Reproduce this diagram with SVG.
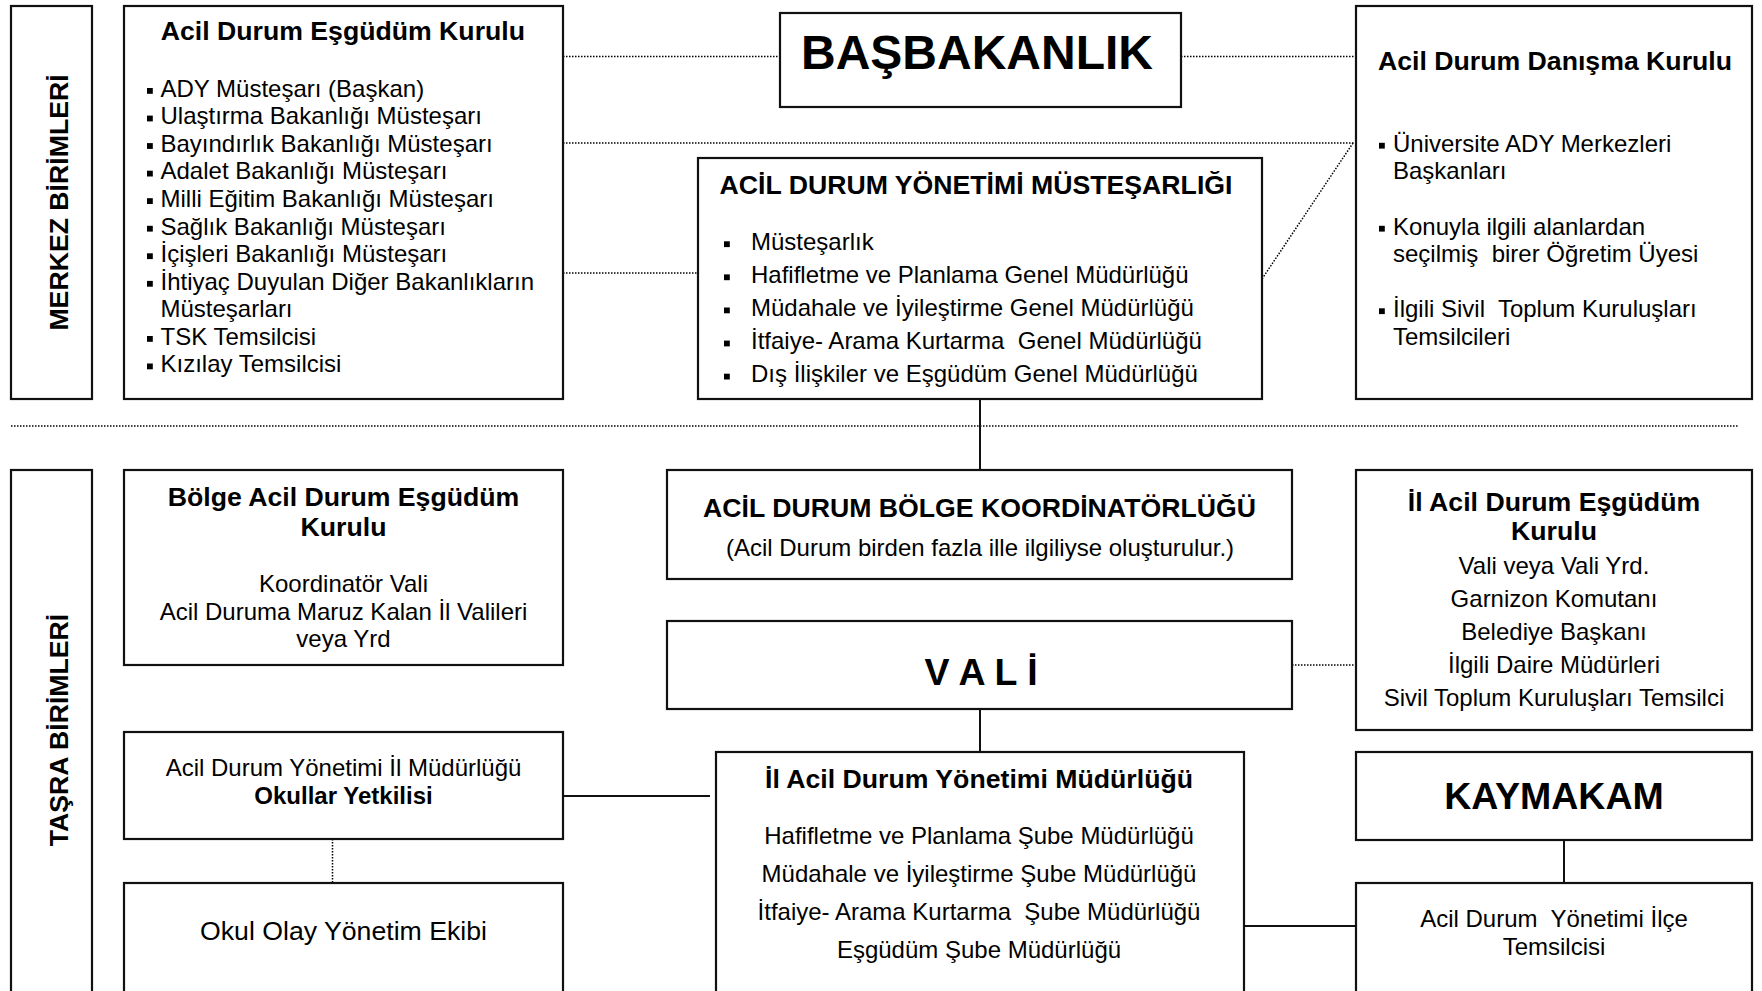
<svg xmlns="http://www.w3.org/2000/svg" xmlns:xlink="http://www.w3.org/1999/xlink" width="1762" height="991" viewBox="0 0 1762 991">
  <style>
    .box { fill: #fff; stroke: #111; stroke-width: 2.2; }
    .t { font-family: "Liberation Sans", Arial, "DejaVu Sans", sans-serif; font-size: 24px; fill: #000; }
    .h { font-size: 26.67px; font-weight: bold; }
    .b { font-weight: bold; }
    .mid { text-anchor: middle; }
    .dot { fill: none; stroke: #000; stroke-width: 1.5; stroke-dasharray: 1.5 1.5; }
    .solid { fill: none; stroke: #111; stroke-width: 2; }
    .blt { fill: #000; }
  </style>
  <defs>
    <rect id="sq" class="blt" x="0" y="-8.7" width="5.8" height="5.8"/>
  </defs>
  <rect width="1762" height="991" fill="#fff"/>

  <!-- connectors -->
  <g id="connectors">
    <line class="dot" x1="11" y1="426" x2="1739" y2="426"/>
    <line class="dot" x1="563" y1="56.5" x2="780" y2="56.5"/>
    <line class="dot" x1="1181" y1="56.5" x2="1356" y2="56.5"/>
    <line class="dot" x1="563" y1="143" x2="1392" y2="143"/>
    <line class="dot" x1="563" y1="273" x2="698" y2="273"/>
    <line class="dot" x1="1353" y1="143" x2="1258" y2="285"/>
    <line class="solid" x1="980" y1="399" x2="980" y2="470"/>
    <line class="solid" x1="980" y1="709" x2="980" y2="752"/>
    <line class="dot" x1="1292" y1="665" x2="1356" y2="665"/>
    <line class="solid" x1="563" y1="796" x2="710" y2="796"/>
    <line class="dot" x1="332.5" y1="839" x2="332.5" y2="883"/>
    <line class="solid" x1="1564" y1="840" x2="1564" y2="883"/>
    <line class="solid" x1="1244" y1="926" x2="1356" y2="926"/>
  </g>

  <!-- side labels -->
  <g id="merkez">
    <rect class="box" x="11" y="6" width="81" height="393"/>
    <text class="t h mid" transform="translate(68,202.5) rotate(-90)">MERKEZ BİRİMLERİ</text>
  </g>
  <g id="tasra">
    <rect class="box" x="11" y="470" width="81" height="560"/>
    <text class="t h mid" transform="translate(68,730) rotate(-90)">TAŞRA BİRİMLERİ</text>
  </g>

  <!-- central level -->
  <g id="eşgüdüm-kurulu">
    <rect class="box" x="124" y="6" width="439" height="393"/>
    <text class="t h" x="160.7" y="40">Acil Durum Eşgüdüm Kurulu</text>
    <use xlink:href="#sq" x="147" y="96.7"/>
    <text class="t" x="160.5" y="96.7">ADY Müsteşarı (Başkan)</text>
    <use xlink:href="#sq" x="147" y="124.3"/>
    <text class="t" x="160.5" y="124.3">Ulaştırma Bakanlığı Müsteşarı</text>
    <use xlink:href="#sq" x="147" y="151.8"/>
    <text class="t" x="160.5" y="151.8">Bayındırlık Bakanlığı Müsteşarı</text>
    <use xlink:href="#sq" x="147" y="179.4"/>
    <text class="t" x="160.5" y="179.4">Adalet Bakanlığı Müsteşarı</text>
    <use xlink:href="#sq" x="147" y="206.9"/>
    <text class="t" x="160.5" y="206.9">Milli Eğitim Bakanlığı Müsteşarı</text>
    <use xlink:href="#sq" x="147" y="234.5"/>
    <text class="t" x="160.5" y="234.5">Sağlık Bakanlığı Müsteşarı</text>
    <use xlink:href="#sq" x="147" y="262"/>
    <text class="t" x="160.5" y="262">İçişleri Bakanlığı Müsteşarı</text>
    <use xlink:href="#sq" x="147" y="289.6"/>
    <text class="t" x="160.5" y="289.6">İhtiyaç Duyulan Diğer Bakanlıkların</text>
    <text class="t" x="160.5" y="317.1">Müsteşarları</text>
    <use xlink:href="#sq" x="147" y="344.7"/>
    <text class="t" x="160.5" y="344.7">TSK Temsilcisi</text>
    <use xlink:href="#sq" x="147" y="372.2"/>
    <text class="t" x="160.5" y="372.2">Kızılay Temsilcisi</text>
  </g>

  <g id="basbakanlik">
    <rect class="box" x="780" y="13" width="401" height="94"/>
    <text class="t b mid" x="977" y="68.5" style="font-size:48px">BAŞBAKANLIK</text>
  </g>

  <g id="danisma-kurulu">
    <rect class="box" x="1356" y="6" width="396" height="393"/>
    <text class="t h" x="1378" y="70">Acil Durum Danışma Kurulu</text>
    <use xlink:href="#sq" x="1379" y="151.5"/>
    <text class="t" x="1393" y="151.5">Üniversite ADY Merkezleri</text>
    <text class="t" x="1393" y="179">Başkanları</text>
    <use xlink:href="#sq" x="1379" y="234.5"/>
    <text class="t" x="1393" y="234.5">Konuyla ilgili alanlardan</text>
    <text class="t" x="1393" y="262" xml:space="preserve">seçilmiş  birer Öğretim Üyesi</text>
    <use xlink:href="#sq" x="1379" y="317"/>
    <text class="t" x="1393" y="317" xml:space="preserve">İlgili Sivil  Toplum Kuruluşları</text>
    <text class="t" x="1393" y="345">Temsilcileri</text>
  </g>

  <g id="mustesarlik">
    <rect class="box" x="698" y="158" width="564" height="241"/>
    <text class="t h mid" x="976" y="194">ACİL DURUM YÖNETİMİ MÜSTEŞARLIĞI</text>
    <use xlink:href="#sq" x="724" y="250"/>
    <text class="t" x="751" y="250">Müsteşarlık</text>
    <use xlink:href="#sq" x="724" y="283.1"/>
    <text class="t" x="751" y="283.1">Hafifletme ve Planlama Genel Müdürlüğü</text>
    <use xlink:href="#sq" x="724" y="316.2"/>
    <text class="t" x="751" y="316.2">Müdahale ve İyileştirme Genel Müdürlüğü</text>
    <use xlink:href="#sq" x="724" y="349.3"/>
    <text class="t" x="751" y="349.3" xml:space="preserve">İtfaiye- Arama Kurtarma  Genel Müdürlüğü</text>
    <use xlink:href="#sq" x="724" y="382.4"/>
    <text class="t" x="751" y="382.4">Dış İlişkiler ve Eşgüdüm Genel Müdürlüğü</text>
  </g>

  <!-- provincial level -->
  <g id="bolge-kurulu">
    <rect class="box" x="124" y="470" width="439" height="195"/>
    <text class="t h mid" x="343.5" y="506">Bölge Acil Durum Eşgüdüm</text>
    <text class="t h mid" x="343.5" y="536">Kurulu</text>
    <text class="t mid" x="343.5" y="592">Koordinatör Vali</text>
    <text class="t mid" x="343.5" y="619.5">Acil Duruma Maruz Kalan İl Valileri</text>
    <text class="t mid" x="343.5" y="647">veya Yrd</text>
  </g>

  <g id="bolge-koordinatorlugu">
    <rect class="box" x="667" y="470" width="625" height="109"/>
    <text class="t h mid" x="979.5" y="516.5">ACİL DURUM BÖLGE KOORDİNATÖRLÜĞÜ</text>
    <text class="t mid" x="980" y="556">(Acil Durum birden fazla ille ilgiliyse oluşturulur.)</text>
  </g>

  <g id="vali">
    <rect class="box" x="667" y="621" width="625" height="88"/>
    <text class="t b mid" x="981" y="685" style="font-size:37.5px">V A L İ</text>
  </g>

  <g id="il-kurulu">
    <rect class="box" x="1356" y="470" width="396" height="260"/>
    <text class="t h mid" x="1554" y="510.5">İl Acil Durum Eşgüdüm</text>
    <text class="t h mid" x="1554" y="540">Kurulu</text>
    <text class="t mid" x="1554" y="574">Vali veya Vali Yrd.</text>
    <text class="t mid" x="1554" y="607">Garnizon Komutanı</text>
    <text class="t mid" x="1554" y="640">Belediye Başkanı</text>
    <text class="t mid" x="1554" y="673">İlgili Daire Müdürleri</text>
    <text class="t mid" x="1554" y="706">Sivil Toplum Kuruluşları Temsilci</text>
  </g>

  <g id="okullar-yetkilisi">
    <rect class="box" x="124" y="732" width="439" height="107"/>
    <text class="t mid" x="343.5" y="775.5">Acil Durum Yönetimi İl Müdürlüğü</text>
    <text class="t b mid" x="343.5" y="803.5">Okullar Yetkilisi</text>
  </g>

  <g id="okul-olay-ekibi">
    <rect class="box" x="124" y="883" width="439" height="200"/>
    <text class="t mid" x="343.5" y="940" style="font-size:26.67px">Okul Olay Yönetim Ekibi</text>
  </g>

  <g id="il-mudurlugu">
    <rect class="box" x="716" y="752" width="528" height="300"/>
    <text class="t h mid" x="979" y="788">İl Acil Durum Yönetimi Müdürlüğü</text>
    <text class="t mid" x="979" y="844">Hafifletme ve Planlama Şube Müdürlüğü</text>
    <text class="t mid" x="979" y="882">Müdahale ve İyileştirme Şube Müdürlüğü</text>
    <text class="t mid" x="979" y="920" xml:space="preserve">İtfaiye- Arama Kurtarma  Şube Müdürlüğü</text>
    <text class="t mid" x="979" y="958">Eşgüdüm Şube Müdürlüğü</text>
  </g>

  <g id="kaymakam">
    <rect class="box" x="1356" y="752" width="396" height="88"/>
    <text class="t b mid" x="1554" y="809" style="font-size:37.5px">KAYMAKAM</text>
  </g>

  <g id="ilce-temsilcisi">
    <rect class="box" x="1356" y="883" width="396" height="200"/>
    <text class="t mid" x="1554" y="927" xml:space="preserve">Acil Durum  Yönetimi İlçe</text>
    <text class="t mid" x="1554" y="955">Temsilcisi</text>
  </g>
</svg>
